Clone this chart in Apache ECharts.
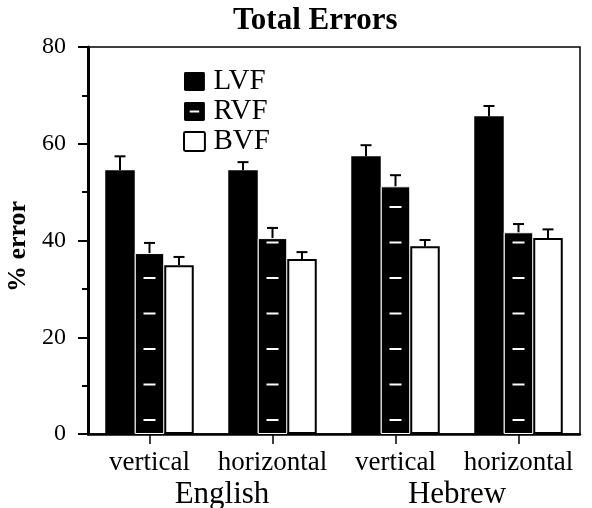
<!DOCTYPE html>
<html>
<head>
<meta charset="utf-8">
<script src="https://cdn.jsdelivr.net/npm/echarts@6/dist/echarts.min.js"></script>
<style>html,body{margin:0;padding:0;background:#fff}#c{width:592px;height:508px}</style>
</head>
<body>
<div id="c"></div>
<script>
var categories = ['vertical', 'horizontal', 'vertical', 'horizontal'];
var languages = ['English', 'Hebrew'];
var yTicks = [0, 20, 40, 60, 80];
var lvf = [54.5, 54.5, 57.4, 65.7];
var lvfErr = [2.9, 1.7, 2.3, 2.1];
var rvf = [37.4, 40.5, 51.2, 41.7];
var rvfErr = [2.1, 2.1, 2.3, 1.7];
var bvf = [34.9, 36.2, 38.8, 40.5];
var bvfErr = [1.7, 1.4, 1.3, 1.8];

var FONT = "'Liberation Serif','Times New Roman',serif";
var BAR_W = 29.5;
var BOX = 'M1.5,0H20.5Q22,0 22,1.5V18.5Q22,20 20.5,20H1.5Q0,20 0,18.5V1.5Q0,0 1.5,0Z';

function errData(vals, errs) {
  return vals.map(function (v, i) { return [i, v, v + errs[i]]; });
}
function errSeries(vals, errs, offset) {
  return {
    type: 'custom', z: 5, silent: true,
    data: errData(vals, errs),
    renderItem: function (params, api) {
      var base = api.coord([api.value(0), api.value(1)]);
      var top = api.coord([api.value(0), api.value(2)]);
      var x = base[0] + offset;
      return {
        type: 'group',
        children: [
          { type: 'line', shape: { x1: x, y1: base[1], x2: x, y2: top[1] }, style: { stroke: '#000', lineWidth: 2 } },
          { type: 'line', shape: { x1: x - 5.5, y1: top[1], x2: x + 5.5, y2: top[1] }, style: { stroke: '#000', lineWidth: 2 } }
        ]
      };
    }
  };
}

var dashSeries = {
  type: 'custom', z: 4, silent: true,
  data: rvf.map(function (v, i) { return [i, v]; }),
  renderItem: function (params, api) {
    var b = api.coord([api.value(0), 0]);
    var t = api.coord([api.value(0), api.value(1)]);
    var kids = [];
    for (var y = b[1] - 14; y > t[1] + 4; y -= 35.5) {
      kids.push({ type: 'rect', shape: { x: b[0] - 6, y: y - 1, width: 12, height: 2 }, style: { fill: '#fff' } });
    }
    return { type: 'group', children: kids };
  }
};

var chart = echarts.init(document.getElementById('c'), null, { renderer: 'canvas' });
chart.setOption({
  animation: false,
  backgroundColor: '#fff',
  title: {
    text: 'Total Errors', left: 233, top: 5, padding: 0,
    textStyle: { fontFamily: FONT, fontSize: 31, fontWeight: 'bold', color: '#000' }
  },
  legend: {
    orient: 'vertical', left: 178, top: 62, itemWidth: 22, itemHeight: 19, itemGap: 1,
    selectedMode: false,
    textStyle: { fontFamily: FONT, fontSize: 29, color: '#000', lineHeight: 28, padding: [0, 0, 0, 3] },
    data: [
      { name: 'LVF', icon: 'path://' + BOX, itemStyle: { color: '#000', borderWidth: 0 } },
      { name: 'RVF', icon: 'path://' + BOX + ' M6,9V11H16V9Z', itemStyle: { color: '#000', borderWidth: 0 } },
      { name: 'BVF', icon: 'path://' + BOX, itemStyle: { color: '#fff', borderColor: '#000', borderWidth: 2 } }
    ]
  },
  grid: { left: 88, right: 12, top: 47, bottom: 74, outerBoundsMode: 'none', containLabel: false, show: true, borderColor: '#000', borderWidth: 1.5, backgroundColor: 'transparent' },
  xAxis: [
    {
      type: 'category', data: categories, position: 'bottom',
      axisLine: { lineStyle: { color: '#000', width: 2.5 } },
      axisTick: { show: true, alignWithLabel: true, length: 10, lineStyle: { color: '#000', width: 1.5 } },
      axisLabel: { fontFamily: FONT, fontSize: 27, color: '#000', margin: 15, interval: 0 },
      splitLine: { show: false }
    },
    {
      type: 'category', data: languages, position: 'bottom',
      axisLine: { show: false }, axisTick: { show: false }, splitLine: { show: false },
      axisLabel: {
        margin: 45, color: '#000', interval: 0,
        formatter: function (v) { return v === 'English' ? '{e|' + v + '}' : '{h|' + v + '}'; },
        rich: {
          e: { fontFamily: FONT, fontSize: 31, color: '#000', padding: [0, 0, 0, 22] },
          h: { fontFamily: FONT, fontSize: 31, color: '#000' }
        }
      }
    }
  ],
  yAxis: {
    type: 'value', min: 0, max: 80, interval: 20,
    name: '% error', nameLocation: 'middle', nameRotate: 90, nameGap: 57,
    nameTextStyle: { fontFamily: FONT, fontSize: 26, fontWeight: 'bold', color: '#000', padding: [0, 12, 0, 0] },
    axisLine: { show: true, lineStyle: { color: '#000', width: 3 } },
    axisTick: { show: true, length: 10, lineStyle: { color: '#000', width: 2 } },
    minorTick: { show: true, splitNumber: 2, length: 6, lineStyle: { color: '#000', width: 2 } },
    axisLabel: {
      fontFamily: FONT, fontSize: 24, color: '#000', margin: 22,
      formatter: function (v) { return yTicks.indexOf(v) >= 0 ? String(v) : ''; }
    },
    splitLine: { show: false }
  },
  series: [
    { name: 'LVF', type: 'bar', data: lvf, barWidth: BAR_W, barGap: '0%', itemStyle: { color: '#000' } },
    { name: 'RVF', type: 'bar', data: rvf, barWidth: BAR_W, barGap: '0%', itemStyle: { color: '#000', borderColor: '#fff', borderWidth: 1 } },
    { name: 'BVF', type: 'bar', data: bvf, barWidth: BAR_W, barGap: '0%', itemStyle: { color: '#fff', borderColor: '#000', borderWidth: 2 } },
    dashSeries,
    errSeries(lvf, lvfErr, -BAR_W),
    errSeries(rvf, rvfErr, 0),
    errSeries(bvf, bvfErr, BAR_W)
  ]
});
</script>
</body>
</html>
